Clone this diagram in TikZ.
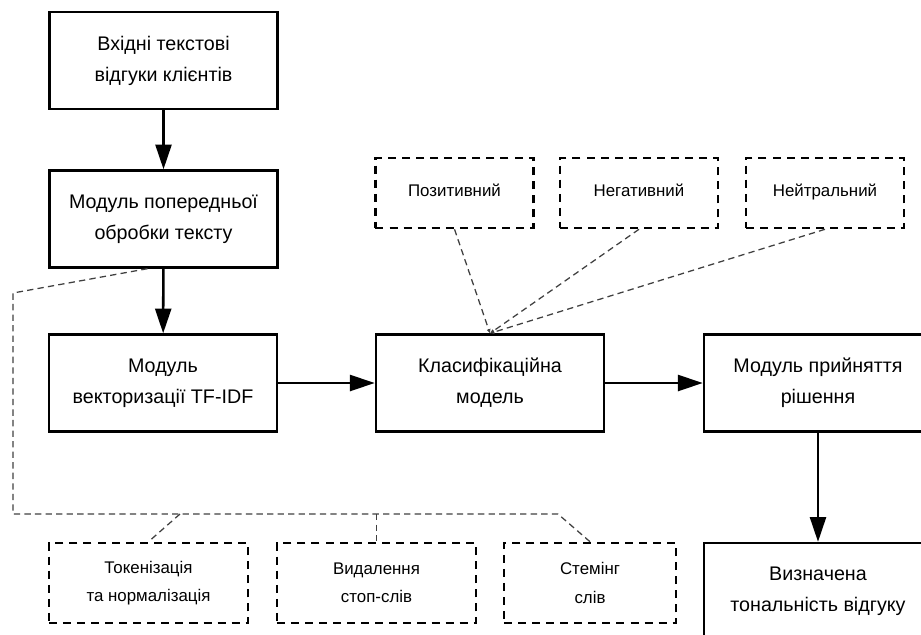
\documentclass[tikz,border=0pt]{standalone}
\usepackage{fontspec}
\setmainfont{Liberation Sans}
\usetikzlibrary{arrows.meta,positioning}

\begin{document}
\begin{tikzpicture}[x=0.025cm,y=-0.025cm]
        \tikzstyle{every node}=[font=\fontsize{14}{22}\selectfont,align=center]
        \tikzstyle{block}=[draw,line width=1.8pt,minimum width=5.7cm,minimum height=2.42cm,inner sep=0pt]
        \tikzstyle{option}=[draw,line width=1.8pt,dash pattern=on 5.7pt off 4.3pt,minimum height=1.75cm,minimum width=3.95cm,inner sep=0pt,font=\fontsize{12}{20}\selectfont]
        \tikzstyle{class}=[option,text height=1.4ex,text depth=.4ex]
        \tikzstyle{flow}=[line width=1.8pt,-{Triangle[length=0.62cm,width=0.4cm]}]
        \tikzstyle{link}=[black!75,line width=0.9pt,dash pattern=on 4.5pt off 3pt]
        \clip (0,0) rectangle (921,634);

        %%% Main chain
        \node[block] (input) at (163.5,60.5) {Вхідні текстові\\відгуки клієнтів};
        \node[block] (prep) at (163.5,219) {Модуль попередньої\\обробки тексту};
        \node[block] (vect) at (163,383) {Модуль\\векторизації TF-IDF};
        \node[block] (clf) at (490,383) {Класифікаційна\\модель};
        \node[block] (dec) at (818,383) {Модуль прийняття\\рішення};
        \node[block] (res) at (818,591.5) {Визначена\\тональність відгуку};

        \draw[flow] (input) -- (prep);
        \draw[flow] (prep) -- (vect);
        \draw[flow] (vect) -- (clf);
        \draw[flow] (clf) -- (dec);
        \draw[flow] (dec) -- (res);

        %%% Classes
        \node[class] (pos) at (454.5,193) {Позитивний};
        \node[class] (neg) at (639,193) {Негативний};
        \node[class] (neu) at (825,193) {Нейтральний};

        \draw[link,-{Latex[length=3pt,width=3pt]}] (pos.south) -- (clf.north);
        \draw[link,-{Latex[length=3pt,width=3pt]}] (neg.south) -- (clf.north);
        \draw[link,-{Latex[length=3pt,width=3pt]}] (neu.south) -- (clf.north);

        %%% Preprocessing steps
        \node[option,minimum width=4.98cm,minimum height=2cm] (tok) at (148.5,583) {Токенізація\\та нормалізація};
        \node[option,minimum width=4.98cm,minimum height=2cm] (del) at (376.5,583) {Видалення\\стоп-слів};
        \node[option,minimum width=4.3cm,minimum height=2cm] (stem) at (590,583) {Стемінг\\слів};

        \coordinate (c1) at (13,293);
        \coordinate (c2) at (13,514);
        \coordinate (b1) at (180,514);
        \coordinate (b2) at (376.5,514);
        \coordinate (b3) at (558,514);

        \draw[link] ([xshift=-0.4cm]prep.south) -- (c1) -- (c2) -- (b3) -- (stem.north);
        \draw[link] (b1) -- (tok.north);
        \draw[link] (b2) -- (del.north);
\end{tikzpicture}
\end{document}
